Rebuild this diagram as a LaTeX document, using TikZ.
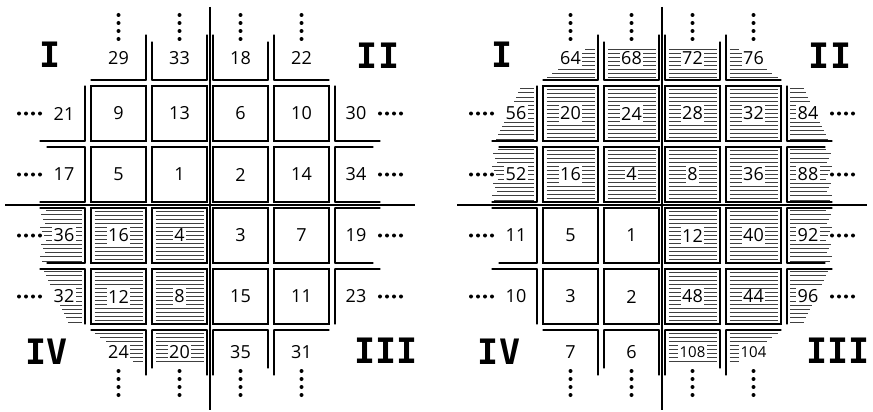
\documentclass[tikz,border=0pt]{standalone}
\usepackage{fontspec}
\setmainfont{Open Sans}
\newfontfamily\numeralfont{DejaVu Sans Mono}
\usetikzlibrary{positioning}
\setlength{\fboxsep}{1.5pt}

\tikzset{
  box/.style={draw, line width=1.2pt, minimum size=55pt, inner sep=0pt, font=\fontsize{18}{18}\selectfont},
  num/.style={inner sep=0pt, font=\fontsize{18}{18}\selectfont},
  edge/.style={line width=1.2pt, line cap=round},
  axis/.style={line width=2pt},
  hatch/.style={line width=0.75pt, black!75},
  quadrant/.style={inner sep=0pt, font=\numeralfont\bfseries\fontsize{35}{35}\selectfont},
}

% #1 prefix, #2 inner cells x/y/label/hatched, #3 top, #4 bottom, #5 left, #6 right
\newcommand{\quadgrid}[6]{%
  % axes
  \draw[axis] (0,-198) -- (0,205);
  \draw[axis] (-205,0) -- (205,0);
  % inner cells
  \foreach \x/\y/\lab/\hh in {#2} {
    \ifnum\hh=1
      \foreach \k in {1,...,13}
        \draw[hatch] (\x-24,\y-28+4*\k) -- (\x+24,\y-28+4*\k);
    \fi
    \node[box] (#1\lab) at (\x,\y) {\colorbox{white}{\lab}};
  }
  % open cells above and below
  \foreach \v/\cells in {-1/{#3},1/{#4}} {
    \foreach \x/\lab/\hh in \cells {
      \pgfmathsetmacro\sg{\x<0 ? -1 : 1}
      \pgfmathtruncatemacro\corner{abs(\x)>60}
      \ifnum\hh=1
        \foreach \k in {0,...,7} {
          \pgfmathsetmacro\cut{\corner*5.5*\k}
          \draw[hatch] (\x-\sg*24,\v*128+\v*4*\k) -- (\x+\sg*24-\sg*\cut,\v*128+\v*4*\k);
        }
      \fi
      \draw[edge] (\x-27.5,\v*125) -- (\x+27.5,\v*125);
      \draw[edge] (\x-\sg*27.5,\v*125) -- (\x-\sg*27.5,\v*170);
      \ifnum\corner=0 \draw[edge] (\x+\sg*27.5,\v*125) -- (\x+\sg*27.5,\v*163); \fi
      \node[num] (#1\lab) at (\x,\v*147)
        {\ifnum\lab>99 \fontsize{15}{15}\selectfont\fi\colorbox{white}{\lab}};
      \foreach \d in {166,174,182,190} \fill (\x,\v*\d) circle (2pt);
    }
  }
  % open cells left and right
  \foreach \v/\cells in {-1/{#5},1/{#6}} {
    \foreach \y/\lab/\hh in \cells {
      \pgfmathsetmacro\sg{\y<0 ? -1 : 1}
      \pgfmathtruncatemacro\corner{abs(\y)>60}
      \ifnum\hh=1
        \foreach \k in {0,...,12} {
          \pgfmathsetmacro\yy{\y-25+4.2*\k}
          \pgfmathsetmacro\hl{\corner ? (\sg>0 ? 38-2*\k : 14+2*\k) : 36+mod(5*\k,7)}
          \draw[hatch] (\v*128,\yy) -- (\v*128+\v*\hl,\yy);
        }
      \fi
      \draw[edge] (\v*125,\y-27.5) -- (\v*125,\y+27.5);
      \draw[edge] (\v*125,\y-\sg*27.5) -- (\v*170,\y-\sg*27.5);
      \ifnum\corner=0 \draw[edge] (\v*125,\y+\sg*27.5) -- (\v*163,\y+\sg*27.5); \fi
      \node[num] (#1\lab) at (\v*146,\y) {\colorbox{white}{\lab}};
      \foreach \d in {170,177,184,191} \fill (\v*\d,\y) circle (2pt);
    }
  }
  % quadrant numerals
  \node[quadrant] (#1-I) at (-160,-150) {I};
  \node[quadrant] (#1-II) at (168,-149) {II};
  \node[quadrant] (#1-III) at (176,146) {III};
  \node[quadrant] (#1-IV) at (-163,147) {IV};
}

\begin{document}
\begin{tikzpicture}[x=1pt,y=-1pt]
\useasboundingbox (0,0) rectangle (873,412);
% Left grid
\begin{scope}[shift={(210,205)}]
\quadgrid{L}
  {-91.5/-91.5/9/0, -30.5/-91.5/13/0, 30.5/-91.5/6/0, 91.5/-91.5/10/0,
   -91.5/-30.5/5/0, -30.5/-30.5/1/0, 30.5/-30.5/2/0, 91.5/-30.5/14/0,
   -91.5/30.5/16/1, -30.5/30.5/4/1, 30.5/30.5/3/0, 91.5/30.5/7/0,
   -91.5/91.5/12/1, -30.5/91.5/8/1, 30.5/91.5/15/0, 91.5/91.5/11/0}
  {-91.5/29/0, -30.5/33/0, 30.5/18/0, 91.5/22/0}
  {-91.5/24/1, -30.5/20/1, 30.5/35/0, 91.5/31/0}
  {-91.5/21/0, -30.5/17/0, 30.5/36/1, 91.5/32/1}
  {-91.5/30/0, -30.5/34/0, 30.5/19/0, 91.5/23/0}
\end{scope}
% Right grid
\begin{scope}[shift={(662,205)}]
\quadgrid{R}
  {-91.5/-91.5/20/1, -30.5/-91.5/24/1, 30.5/-91.5/28/1, 91.5/-91.5/32/1,
   -91.5/-30.5/16/1, -30.5/-30.5/4/1, 30.5/-30.5/8/1, 91.5/-30.5/36/1,
   -91.5/30.5/5/0, -30.5/30.5/1/0, 30.5/30.5/12/1, 91.5/30.5/40/1,
   -91.5/91.5/3/0, -30.5/91.5/2/0, 30.5/91.5/48/1, 91.5/91.5/44/1}
  {-91.5/64/1, -30.5/68/1, 30.5/72/1, 91.5/76/1}
  {-91.5/7/0, -30.5/6/0, 30.5/108/1, 91.5/104/1}
  {-91.5/56/1, -30.5/52/1, 30.5/11/0, 91.5/10/0}
  {-91.5/84/1, -30.5/88/1, 30.5/92/1, 91.5/96/1}
\end{scope}
\end{tikzpicture}
\end{document}
